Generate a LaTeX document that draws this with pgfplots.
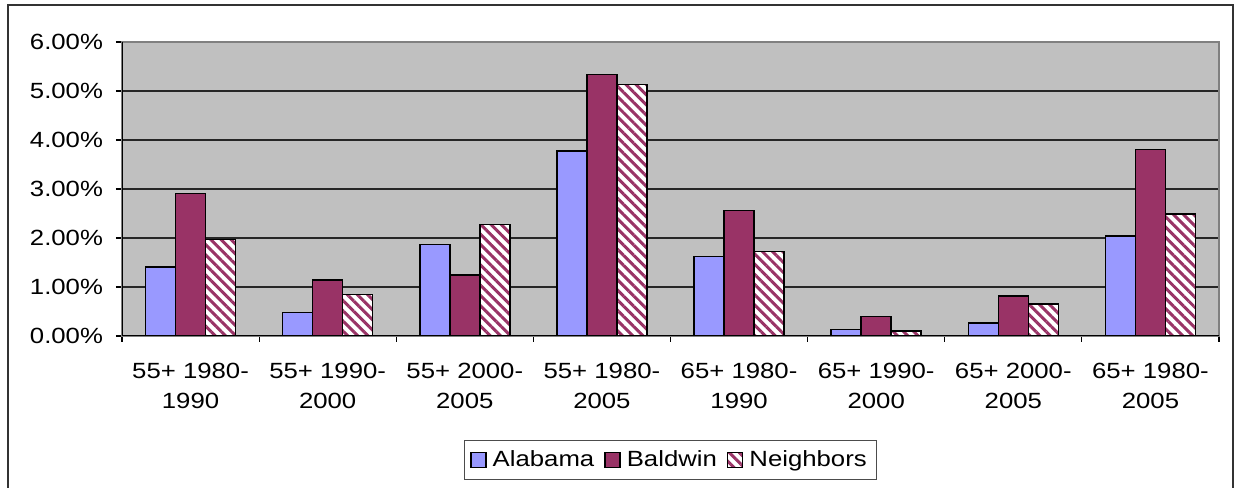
\documentclass[border=0pt]{standalone}
\usepackage{fontspec}
\setmainfont{Liberation Sans}[FakeStretch=1.17]
\usepackage{pgfplots}
\pgfplotsset{compat=1.18}
\usetikzlibrary{patterns.meta}
\definecolor{alab}{HTML}{9999FF}
\definecolor{bald}{HTML}{993366}
\definecolor{plotbg}{HTML}{C0C0C0}

\begin{document}
\begin{tikzpicture}
\useasboundingbox (0,0) rectangle (618pt,243.5pt);
\draw[black!80, line width=1pt] (4pt,-2pt) -- (4pt,241pt) -- (616.5pt,241pt) -- (616.5pt,-2pt);
\begin{axis}[
    at={(61pt,75.5pt)}, anchor=south west,
    scale only axis, width=548.5pt, height=147pt,
    font=\fontsize{11}{15}\selectfont,
    ybar=0pt, bar width=15pt,
    xmin=-0.5, xmax=7.5, ymin=0, ymax=6,
    xtick={0,...,7},
    xticklabels={{55+ 1980-\\1990},{55+ 1990-\\2000},{55+ 2000-\\2005},{55+ 1980-\\2005},
                 {65+ 1980-\\1990},{65+ 1990-\\2000},{65+ 2000-\\2005},{65+ 1980-\\2005}},
    xticklabel style={align=center, yshift=-7pt},
    major x tick style={draw=none},
    minor xtick={-0.5,0.5,...,7.5},
    ytick={0,1,...,6},
    yticklabel={\pgfmathprintnumber[fixed,fixed zerofill,precision=2,assume math mode=true]{\tick}\%},
    yticklabel style={xshift=-3pt},
    tick align=outside, tick pos=left,
    major tick length=3pt, minor tick length=3pt,
    tick style={black, line width=0.6pt},
    ymajorgrids, grid style={black!85, line width=0.6pt},
    axis line style={draw=black!50, line width=0.8pt},
    axis background/.style={fill=plotbg},
    legend image code/.code={\draw[#1] (0pt,-3.75pt) rectangle (7.5pt,3.75pt);},
    legend style={at={(0.5,-0.422)}, anchor=center, legend columns=-1,
        draw=black!70, line width=0.6pt, inner xsep=3pt, inner ysep=3pt,
        /tikz/every odd column/.append style={column sep=1pt},
        /tikz/every even column/.append style={column sep=3pt}},
]
\addplot[draw=black, line width=0.75pt, fill=alab] coordinates {
    (0,1.41) (1,0.48) (2,1.87) (3,3.78) (4,1.62) (5,0.13) (6,0.27) (7,2.04)};
\addplot[draw=black, line width=0.75pt, fill=bald] coordinates {
    (0,2.91) (1,1.14) (2,1.24) (3,5.34) (4,2.56) (5,0.40) (6,0.82) (7,3.81)};
\addplot[draw=black, line width=0.75pt, fill=white,
    postaction={pattern={Lines[angle=-45,distance=3.6pt,line width=1.5pt]}, pattern color=bald}] coordinates {
    (0,1.97) (1,0.85) (2,2.28) (3,5.13) (4,1.72) (5,0.10) (6,0.65) (7,2.49)};
\legend{Alabama, Baldwin, Neighbors}
\draw[black, line width=0.8pt] (rel axis cs:0,1) -- (rel axis cs:0,0) -- (rel axis cs:1,0);
\end{axis}
\end{tikzpicture}
\end{document}
